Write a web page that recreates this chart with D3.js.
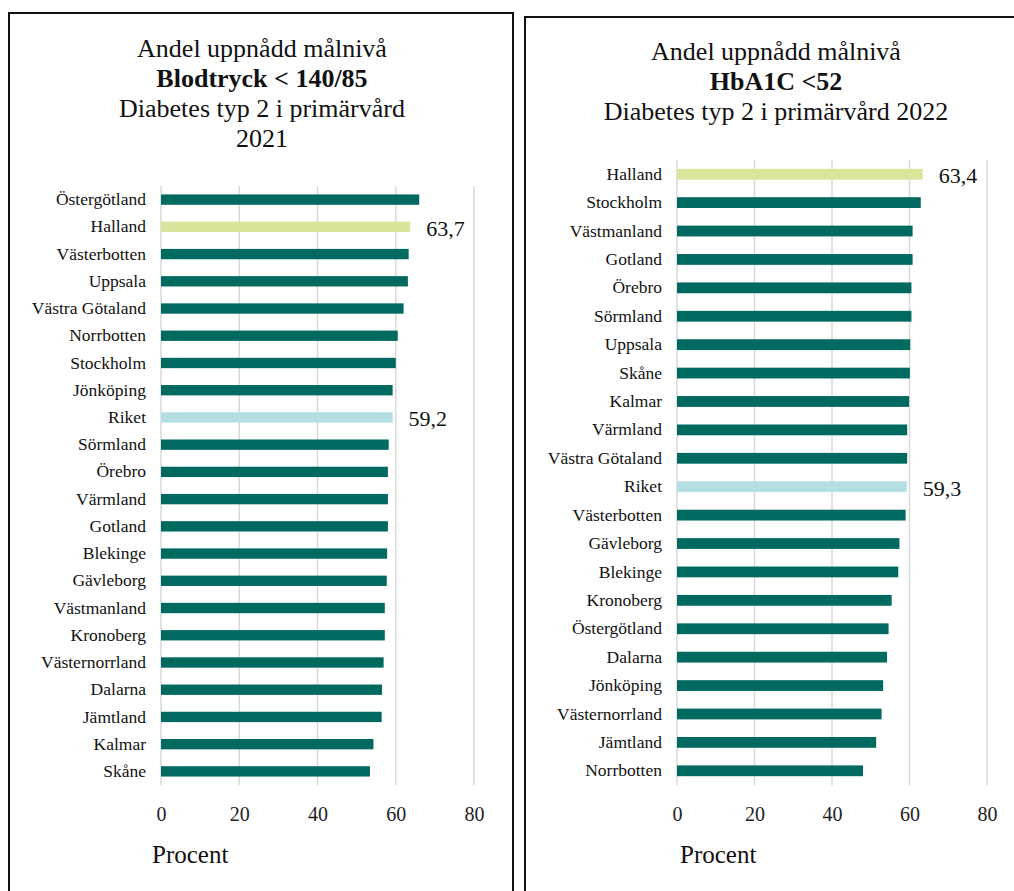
<!DOCTYPE html>
<html><head><meta charset="utf-8">
<script src="https://cdn.jsdelivr.net/npm/d3@7"></script>
<style>
html,body{margin:0;padding:0;background:#fff;}
svg{display:block;}
</style></head>
<body>
<svg id="c" width="1014" height="891"></svg>
<script>
// ---- Data: left chart (Blodtryck < 140/85, 2021)
const leftCategories = ["Östergötland","Halland","Västerbotten","Uppsala","Västra Götaland","Norrbotten","Stockholm","Jönköping","Riket","Sörmland","Örebro","Värmland","Gotland","Blekinge","Gävleborg","Västmanland","Kronoberg","Västernorrland","Dalarna","Jämtland","Kalmar","Skåne"];
const leftValues = [66.0,63.7,63.3,63.1,62.0,60.5,60.0,59.2,59.2,58.2,58.0,58.0,58.0,57.8,57.7,57.2,57.2,56.9,56.5,56.4,54.3,53.4];
const leftTitle = ["Andel uppnådd målnivå","Blodtryck < 140/85","Diabetes typ 2 i primärvård","2021"];

// ---- Data: right chart (HbA1C <52, 2022)
const rightCategories = ["Halland","Stockholm","Västmanland","Gotland","Örebro","Sörmland","Uppsala","Skåne","Kalmar","Värmland","Västra Götaland","Riket","Västerbotten","Gävleborg","Blekinge","Kronoberg","Östergötland","Dalarna","Jönköping","Västernorrland","Jämtland","Norrbotten"];
const rightValues = [63.4,62.9,60.8,60.8,60.5,60.5,60.2,60.1,59.9,59.4,59.4,59.3,59.0,57.4,57.1,55.4,54.6,54.2,53.2,52.8,51.4,48.0];
const rightTitle = ["Andel uppnådd målnivå","HbA1C <52","Diabetes typ 2 i primärvård 2022"];

const xTicks = [0,20,40,60,80];
const axisLabel = "Procent";
const labeledValues = {"Halland": true, "Riket": true};

const FONT = "'Liberation Serif', 'Times New Roman', serif";
const svg = d3.select("#c");

const colTeal = "#006A61", colHalland = "#D8E59A", colRiket = "#B3DEE3";

// Panel borders
svg.append("rect").attr("x",9).attr("y",13).attr("width",504).attr("height",900)
  .attr("fill","none").attr("stroke","#111").attr("stroke-width",2);
svg.append("rect").attr("x",525).attr("y",17).attr("width",520).attr("height",900)
  .attr("fill","none").attr("stroke","#111").attr("stroke-width",2);

function drawPanel(cfg){
  const g = svg.append("g").style("font-family",FONT);
  // title
  cfg.title.forEach((t,i)=>{
    g.append("text").attr("x",cfg.cx).attr("y",cfg.titleY + i*30)
      .attr("text-anchor","middle").style("font-size","26px").style("font-family",FONT).attr("fill","#111")
      .attr("font-weight", i===1 ? "bold" : "normal").text(t);
  });
  const x = d3.scaleLinear().domain([0,80]).range([cfg.x0,cfg.x1]);
  const y = d3.scaleBand().domain(cfg.cats).range([cfg.yTop,cfg.yBot]).paddingInner(0.62).paddingOuter(0.31);
  // gridlines
  g.selectAll("line.grid").data(xTicks).join("line")
    .attr("x1",d=>x(d)).attr("x2",d=>x(d))
    .attr("y1",cfg.yTop).attr("y2",cfg.yBot)
    .attr("stroke","#d9d9d9").attr("stroke-width",1.5);
  // x axis tick labels
  const ax = g.append("g").attr("transform",`translate(0,${cfg.yBot})`)
    .call(d3.axisBottom(x).tickValues(xTicks).tickSize(0).tickPadding(22));
  ax.attr("font-family",null).attr("font-size",null);
  ax.select(".domain").remove();
  ax.selectAll("text").style("font-size","20px").style("font-family",FONT).attr("fill","#222");
  // y axis labels
  const ay = g.append("g").attr("transform",`translate(${cfg.x0},0)`)
    .call(d3.axisLeft(y).tickSize(0).tickPadding(15));
  ay.attr("font-family",null).attr("font-size",null);
  ay.select(".domain").remove();
  ay.selectAll("text").style("font-size","17.5px").style("font-family",FONT).attr("fill","#111");
  // bars
  const data = cfg.cats.map((c,i)=>({c, v:cfg.vals[i]}));
  g.selectAll("rect.bar").data(data).join("rect")
    .attr("x",x(0)).attr("y",d=>y(d.c))
    .attr("width",d=>x(d.v)-x(0)).attr("height",y.bandwidth())
    .attr("fill",d=> d.c==="Halland" ? colHalland : d.c==="Riket" ? colRiket : colTeal);
  // value labels
  g.selectAll("text.val").data(data.filter(d=>labeledValues[d.c])).join("text")
    .attr("x",d=>x(d.v)+cfg.valOff).attr("y",d=>y(d.c)+y.bandwidth()/2)
    .attr("dy","0.4em").style("font-size","22px").style("font-family",FONT).attr("fill","#111")
    .text(d=>d3.format(".1f")(d.v).replace(".",","));
  // axis title
  g.append("text").attr("x",cfg.procX).attr("y",863).style("font-size","25px").style("font-family",FONT).attr("fill","#111").text(axisLabel);
}

drawPanel({title:leftTitle, cx:262, titleY:57, cats:leftCategories, vals:leftValues,
  x0:161, x1:474, yTop:186, yBot:785, valOff:16, procX:152});
drawPanel({title:rightTitle, cx:776, titleY:60, cats:rightCategories, vals:rightValues,
  x0:677, x1:987, yTop:160, yBot:785, valOff:16, procX:680});
</script>
</body></html>
